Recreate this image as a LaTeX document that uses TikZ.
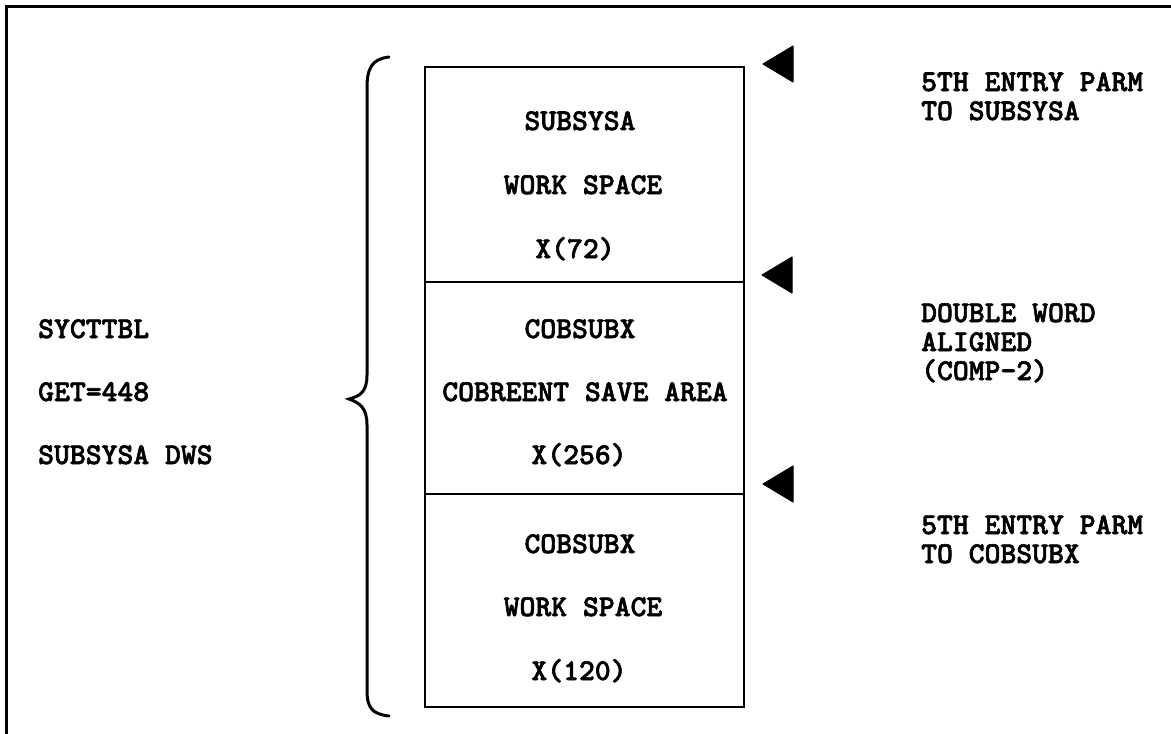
\documentclass[tikz,border=0pt]{standalone}
\usepackage{fontspec}
\newfontfamily\typew[FakeBold=2]{lmmonolt10-bold.otf}
\begin{document}
\begin{tikzpicture}[x=1pt,y=-1pt,
  lbl/.style={font=\typew\fontsize{30.2}{32}\selectfont, inner sep=0pt},
  boxline/.style={line width=2pt},
  pointer/.style={fill=black, draw=black, line width=1pt, line join=round}]
\useasboundingbox (0,0) rectangle (1171,734);
% outer frame (top and left edges visible)
\draw[line width=3pt] (6,734) -- (6,6) -- (1171,6);
% stacked box
\coordinate (bTL) at (425,67);
\coordinate (bBR) at (744,707);
\draw[boxline] (bTL) rectangle (bBR);
\draw[boxline] (425,282) coordinate (d1l) -- (744,282) coordinate (d1r);
\draw[boxline] (425,494) coordinate (d2l) -- (744,494) coordinate (d2r);
% brace
\draw[line width=3pt, line cap=round]
  (389,57) .. controls (372,59) and (367,68) .. (367,88)
  -- (367,375) .. controls (367,392) and (360,396) .. (349,399)
  .. controls (360,403) and (367,408) .. (367,425)
  -- (367,690) .. controls (367,708) and (372,714) .. (389,716);
% pointers
\fill[pointer] (763,64) -- (793,46) -- (793,82) -- cycle;
\fill[pointer] (762,275) -- (792,257) -- (792,293) -- cycle;
\fill[pointer] (763,484) -- (793,466) -- (793,502) -- cycle;
% left texts
\node[lbl, anchor=base west] (l1) at (38,338) {SYCTTBL};
\node[lbl, anchor=base west] (l2) at (38,401) {GET=448};
\node[lbl, anchor=base west] (l3) at (38,464) {SUBSYSA DWS};
% box 1
\node[lbl, anchor=base] (a1) at (580,130) {SUBSYSA};
\node[lbl, anchor=base] (a2) at (583,194) {WORK SPACE};
\node[lbl, anchor=base] (a3) at (575,258) {X(72)};
% box 2
\node[lbl, anchor=base] (b1) at (580,338) {COBSUBX};
\node[lbl, anchor=base] (b2) at (585,401) {COBREENT SAVE AREA};
\node[lbl, anchor=base] (b3) at (579,464) {X(256)};
% box 3
\node[lbl, anchor=base] (c1) at (580,553) {COBSUBX};
\node[lbl, anchor=base] (c2) at (583,616) {WORK SPACE};
\node[lbl, anchor=base] (c3) at (579,680) {X(120)};
% right texts
\node[lbl, anchor=base west] (r1) at (921,91) {5TH ENTRY PARM};
\node[lbl, anchor=base west] (r2) at (921,120) {TO SUBSYSA};
\node[lbl, anchor=base west] (r3) at (921,322) {DOUBLE WORD};
\node[lbl, anchor=base west] (r4) at (921,351) {ALIGNED};
\node[lbl, anchor=base west] (r5) at (921,380) {(COMP-2)};
\node[lbl, anchor=base west] (r6) at (921,534) {5TH ENTRY PARM};
\node[lbl, anchor=base west] (r7) at (921,563) {TO COBSUBX};
\end{tikzpicture}
\end{document}
